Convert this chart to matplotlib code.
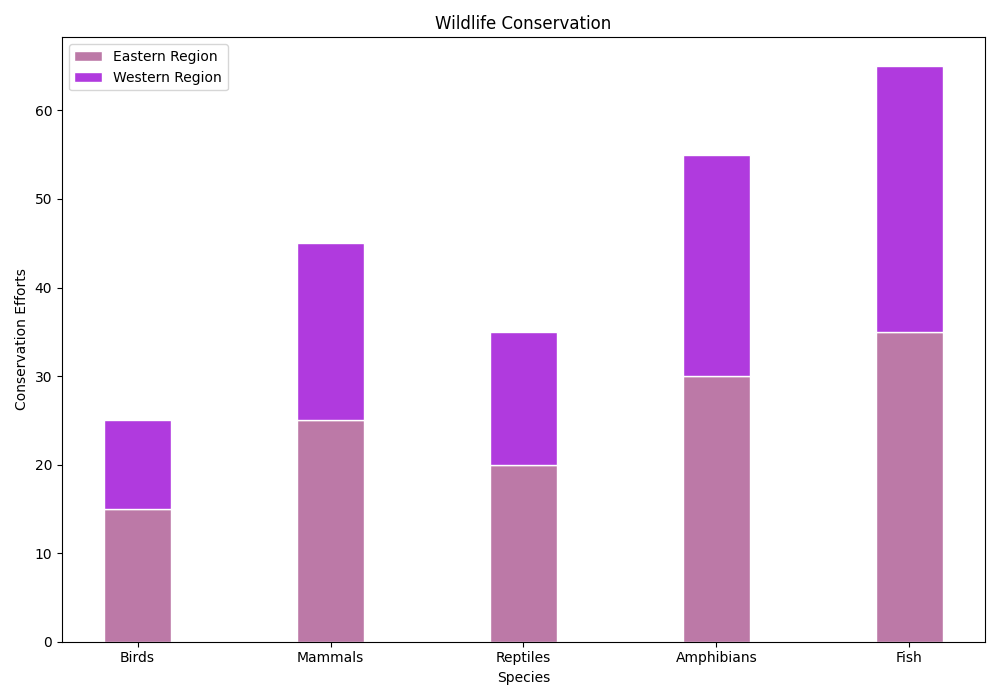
import matplotlib
matplotlib.use("Agg")
import matplotlib.pyplot as plt

species = ["Birds", "Mammals", "Reptiles", "Amphibians", "Fish"]
eastern = [15, 25, 20, 30, 35]
western = [10, 20, 15, 25, 30]

fig, ax = plt.subplots(figsize=(10, 7), dpi=100)
x = range(len(species))
ax.bar(x, eastern, 0.35, color="#BC79A7", edgecolor="white", label="Eastern Region")
ax.bar(x, western, 0.35, bottom=eastern, color="#B03ADE", edgecolor="white", label="Western Region")
ax.set_xticks(list(x))
ax.set_xticklabels(species)
ax.set_xlabel("Species")
ax.set_ylabel("Conservation Efforts")
ax.set_title("Wildlife Conservation")
ax.legend(loc="upper left")
fig.tight_layout()
fig.savefig("out.png")
